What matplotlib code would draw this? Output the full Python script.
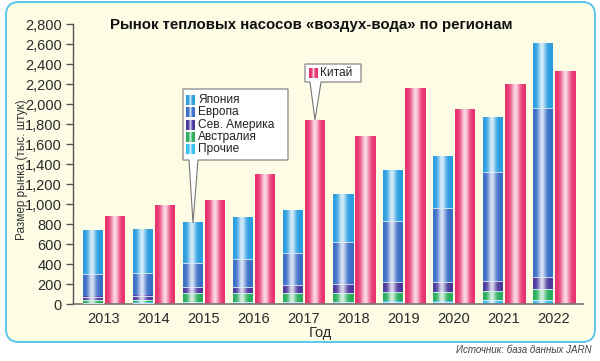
import numpy as np
import matplotlib
matplotlib.use("Agg")
import matplotlib.pyplot as plt
from matplotlib.colors import to_rgb
from matplotlib.patches import FancyBboxPatch, Polygon

plt.rcParams['font.family'] = ['Liberation Sans', 'DejaVu Sans']

# ── data (тыс. штук) ────────────────────────────────────────────────
years      = ['2013', '2014', '2015', '2016', '2017', '2018', '2019', '2020', '2021', '2022']
others     = [10, 15, 20, 20, 20, 20, 25, 25, 40, 40]
australia  = [30, 25, 93, 87, 87, 87, 92, 92, 90, 107]
n_america  = [35, 45, 54, 66, 83, 93, 100, 100, 103, 126]
europe     = [225, 225, 240, 280, 323, 423, 613, 746, 1084, 1690]
japan      = [435, 435, 403, 420, 430, 474, 507, 520, 546, 647]
china      = [880, 990, 1035, 1300, 1840, 1680, 2160, 1950, 2195, 2325]

stack_names  = ['Прочие', 'Австралия', 'Сев. Америка', 'Европа', 'Япония']
stack_vals   = [others, australia, n_america, europe, japan]
stack_colors = ['#33bdf0', '#27ad5c', '#4a389e', '#3a6ec6', '#2a9de0']
china_color  = '#e8306e'
legend_order = ['Япония', 'Европа', 'Сев. Америка', 'Австралия', 'Прочие']

W, H = 600, 361
fig = plt.figure(figsize=(W / 100, H / 100), dpi=100)
fig.patch.set_facecolor('white')

# background panel
bg = fig.add_axes([0, 0, 1, 1], zorder=0)
bg.set_xlim(0, W); bg.set_ylim(H, 0); bg.axis('off')
bg.add_patch(FancyBboxPatch((6, 2), 589, 340, boxstyle='round,pad=0,rounding_size=13',
                            facecolor='#fdfde6', edgecolor='#5cc6ea', lw=1.4))

ax = fig.add_axes([73 / W, (H - 304) / H, 510 / W, 280 / H], zorder=1)
ax.patch.set_visible(False)


def shade(axis, x0, x1, y0, y1, color, center=0.45, spread=0.2, z=2):
    t = np.linspace(0, 1, 64)
    k = 0.8 * np.exp(-((t - center) / spread) ** 2)
    base = np.array(to_rgb(color))
    img = base[None, :] * (1 - k[:, None]) + k[:, None]
    axis.imshow(img[None, :, :], extent=(x0, x1, y0, y1), aspect='auto',
                interpolation='bilinear', zorder=z)


x = np.arange(len(years))
bw = 0.4
off = 0.22

bottom = np.zeros(len(years))
for j, (name, vals, col) in enumerate(zip(stack_names, stack_vals, stack_colors)):
    bars = ax.bar(x - off, vals, bw, bottom=bottom, color=col, linewidth=0, label=name)
    for b in bars:
        shade(ax, b.get_x(), b.get_x() + b.get_width(), b.get_y(), b.get_y() + b.get_height(), col)
        if j < len(stack_names) - 1:
            top = b.get_y() + b.get_height()
            ax.plot([b.get_x(), b.get_x() + b.get_width()], [top, top], color='#dff0fa', lw=0.6, zorder=3)
    bottom += np.array(vals)
stack_bars = bars

china_bars = ax.bar(x + off, china, bw, color=china_color, linewidth=0, label='Китай')
for b in china_bars:
    shade(ax, b.get_x(), b.get_x() + b.get_width(), 0, b.get_height(), china_color, center=0.5, spread=0.22)

ax.set_xlim(-0.62, 9.58)
ax.set_ylim(0, 2800)
ax.set_yticks(np.arange(0, 2801, 200))
ax.set_yticklabels([f'{v:,}' for v in range(0, 2801, 200)])
ax.set_xticks(x)
ax.set_xticklabels(years)
ax.tick_params(axis='y', direction='out', length=5, width=1, color='#555555',
               labelsize=10.5, labelcolor='#2a2a2a', pad=3)
ax.tick_params(axis='x', length=0, labelsize=10.5, labelcolor='#2a2a2a', pad=6)
for s in ['top', 'right']:
    ax.spines[s].set_visible(False)
ax.spines['left'].set_color('#555555')
ax.spines['bottom'].set_color('#777777')
ax.spines['left'].set_linewidth(1)
ax.spines['bottom'].set_linewidth(1.2)

fig.text(311 / W, 1 - 25 / H, 'Рынок тепловых насосов «воздух-вода» по регионам',
         ha='center', va='center', fontsize=10.8, fontweight='bold', color='#111111')
fig.text(22 / W, 1 - 170 / H, 'Размер рынка (тыс. штук)', rotation=90,
         ha='center', va='center', fontsize=8.5, color='#333333')
fig.text(320 / W, 1 - 333 / H, 'Год', ha='center', va='center', fontsize=10.5, color='#2a2a2a')
fig.text(592 / W, 1 - 350 / H, 'Источник: база данных JARN', ha='right', va='center',
         fontsize=7, style='italic', color='#444444')

# callouts overlay
ov = fig.add_axes([0, 0, 1, 1], zorder=3)
ov.set_xlim(0, W); ov.set_ylim(H, 0); ov.axis('off')
fig.canvas.draw()


def tip_of(bar):
    p = ax.transData.transform((bar.get_x() + bar.get_width() / 2, bar.get_y() + bar.get_height()))
    return ov.transData.inverted().transform(p)


t1 = tip_of(stack_bars[2])
ov.add_patch(Polygon([(183, 89), (288, 89), (288, 160), (198, 160), tuple(t1), (189, 160), (183, 160)],
                     closed=True, facecolor='white', edgecolor='#777777', lw=0.8))
for i, name in enumerate(legend_order):
    yc = 100 + i * 12.3
    col = stack_colors[stack_names.index(name)]
    shade(ov, 186, 195, yc + 5, yc - 5, col, center=0.5, spread=0.14, z=4)
    ov.text(198, yc, name, ha='left', va='center', fontsize=8.6, color='#222222')

t2 = tip_of(china_bars[4])
ov.add_patch(Polygon([(305, 64), (361, 64), (361, 82), (321, 82), tuple(t2), (310, 82), (305, 82)],
                     closed=True, facecolor='white', edgecolor='#777777', lw=0.8))
shade(ov, 309, 318, 78, 68, china_color, center=0.5, spread=0.14, z=4)
ov.text(320, 73, 'Китай', ha='left', va='center', fontsize=8.6, color='#222222')
ov.set_xlim(0, W); ov.set_ylim(H, 0)

fig.savefig('out.png', dpi=100)
